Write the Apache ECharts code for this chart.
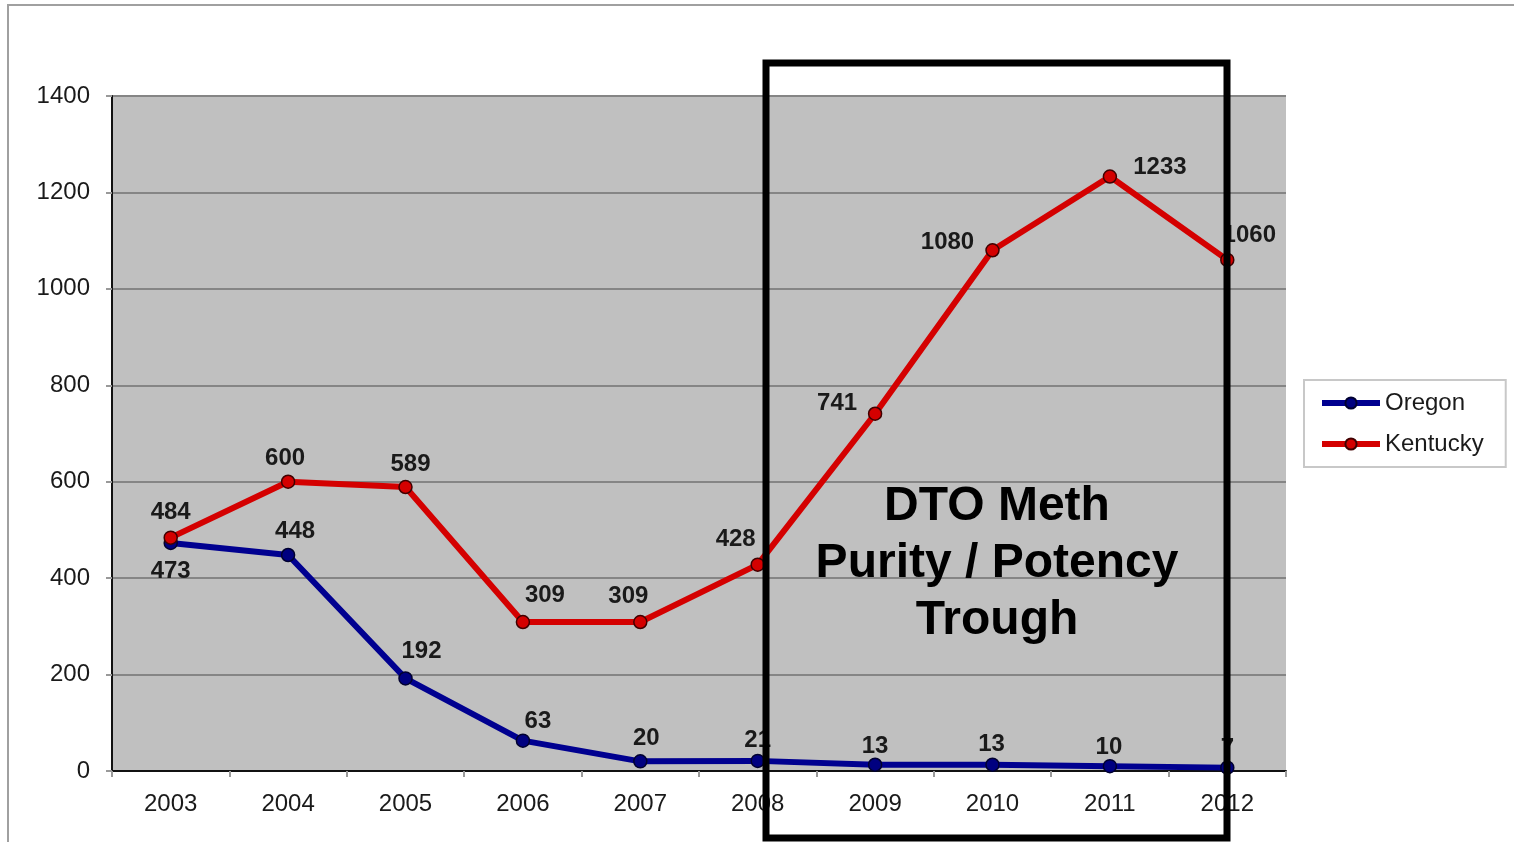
<!DOCTYPE html>
<html>
<head>
    <meta charset="UTF-8" />
    <title>Oregon / Kentucky</title>
    <script src="https://cdn.jsdelivr.net/npm/echarts@6/dist/echarts.min.js"></script>
    <style>
        html, body { margin: 0; padding: 0; background: #fff; }
        #chart { width: 1514px; height: 842px; }
    </style>
</head>
<body>
<div id="chart"></div>
<script>
    // data
    var years = ['2003', '2004', '2005', '2006', '2007', '2008', '2009', '2010', '2011', '2012'];
    var oregon = [473, 448, 192, 63, 20, 21, 13, 13, 10, 7];
    var kentucky = [484, 600, 589, 309, 309, 428, 741, 1080, 1233, 1060];
    var yTicks = [0, 200, 400, 600, 800, 1000, 1200, 1400];

    // label nudges (x, y) per point, kept apart from the values
    var kyOffsets = [[0, 2], [-3, 4], [5, 5], [22, 1], [-12, 2], [-22, 2], [-38, 17], [-45, 19], [50, 18], [22, 3]];
    var orOffsets = [[0, 3], [7, 4], [16, 0], [15, 8], [6, 4], [0, 7], [0, 9], [-1, 7], [-1, 8], [0, 8]];

    var labelFont = { fontFamily: 'Liberation Sans, Arial', fontWeight: 'bold', fontSize: 24, color: '#1a1a1a' };

    function buildData(vals, offs, belowFirst) {
        return vals.map(function (v, i) {
            var lab = Object.assign({ show: true, position: 'top', distance: 8, offset: offs[i] }, labelFont);
            if (belowFirst && i === 0) { lab.position = 'bottom'; lab.distance = 6; }
            return { value: v, label: lab };
        });
    }

    var chart = echarts.init(document.getElementById('chart'));
    var option = {
        animation: false,
        grid: { left: 112, right: 228, top: 96, bottom: 71, show: true, backgroundColor: '#c0c0c0', borderWidth: 0 },
        legend: {
            orient: 'vertical',
            left: 1304, top: 380,
            padding: [11, 22, 11, 15],
            itemGap: 17,
            itemWidth: 58, itemHeight: 14,
            itemTextGap: 4,
            backgroundColor: '#fff',
            borderColor: '#c8c8c8', borderWidth: 2,
            lineStyle: { width: 6 },
            textStyle: { fontFamily: 'Liberation Sans, Arial', fontSize: 24, color: '#1a1a1a' },
            data: ['Oregon', 'Kentucky']
        },
        xAxis: {
            type: 'category',
            data: years,
            boundaryGap: true,
            axisLine: { lineStyle: { color: '#111', width: 2 } },
            axisTick: { show: true, length: 6, lineStyle: { color: '#999', width: 2 } },
            axisLabel: { margin: 21, fontFamily: 'Liberation Sans, Arial', fontSize: 24, color: '#1a1a1a' }
        },
        yAxis: {
            type: 'value',
            min: 0, max: yTicks[yTicks.length - 1], interval: yTicks[1] - yTicks[0],
            axisLine: { show: true, lineStyle: { color: '#111', width: 2 } },
            axisTick: { show: true, length: 6, lineStyle: { color: '#999', width: 2 } },
            axisLabel: {
                margin: 22, fontFamily: 'Liberation Sans, Arial', fontSize: 24, color: '#1a1a1a',
                formatter: function (v) { return String(v); }
            },
            splitLine: { show: true, lineStyle: { color: '#858585', width: 2 } }
        },
        series: [
            {
                name: 'Oregon', type: 'line',
                data: buildData(oregon, orOffsets, true),
                symbol: 'circle', symbolSize: 13,
                lineStyle: { color: '#000090', width: 6 },
                itemStyle: { color: '#000080', borderColor: '#000030', borderWidth: 1.5 },
                z: 3
            },
            {
                name: 'Kentucky', type: 'line',
                data: buildData(kentucky, kyOffsets, false),
                symbol: 'circle', symbolSize: 13,
                lineStyle: { color: '#d40000', width: 6 },
                itemStyle: { color: '#d40000', borderColor: '#400000', borderWidth: 1.5 },
                z: 4
            }
        ],
        graphic: [
            {   // outer frame of the slide
                type: 'rect', z: 0, silent: true,
                shape: { x: 8, y: 5, width: 1520, height: 850 },
                style: { fill: 'none', stroke: '#a0a0a0', lineWidth: 2 }
            },
            {   // highlight box
                type: 'rect', z: 100, silent: true,
                shape: { x: 766, y: 63, width: 461, height: 775 },
                style: { fill: 'none', stroke: '#000', lineWidth: 7 }
            },
            {
                type: 'text', z: 101, silent: true,
                x: 997, y: 478,
                style: {
                    text: 'DTO Meth\nPurity / Potency\nTrough',
                    align: 'center',
                    verticalAlign: 'top',
                    fontFamily: 'Liberation Sans, Arial',
                    fontWeight: 'bold', fontSize: 48, lineHeight: 57,
                    fill: '#000'
                }
            }
        ]
    };
    chart.setOption(option);
</script>
</body>
</html>
